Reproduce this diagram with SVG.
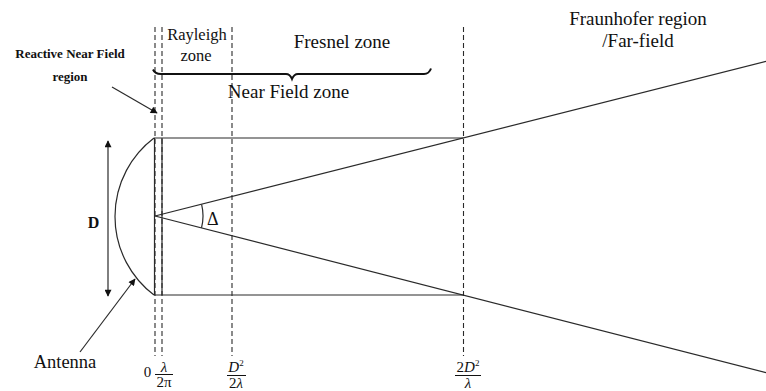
<svg xmlns="http://www.w3.org/2000/svg" width="766" height="391" viewBox="0 0 766 391">
<style>
.ln{stroke:#2a2a2a;stroke-width:1.2;fill:none}
.ds{stroke:#2a2a2a;stroke-width:1.1;fill:none;stroke-dasharray:5 3}
.t{font-family:'Liberation Serif','DejaVu Serif',serif;fill:#111}
.b{font-weight:bold}
.i{font-style:italic}
</style>
<defs>
<marker id="ah" viewBox="0 0 10 10" refX="9" refY="5" markerWidth="8" markerHeight="7" markerUnits="userSpaceOnUse" orient="auto-start-reverse">
<path d="M0,0 L10,5 L0,10 Z" fill="#111"/>
</marker>
</defs>
<rect width="766" height="391" fill="#fff"/>
<g id="boundaries">
<line class="ds" x1="155" y1="27" x2="155" y2="356"/>
<line class="ds" x1="162" y1="27" x2="162" y2="356"/>
<line class="ds" x1="232" y1="27" x2="232" y2="356"/>
<line class="ds" x1="463.5" y1="27" x2="463.5" y2="356"/>
</g>
<g id="antenna">
<path class="ln" d="M154,138 A98.5,98.5 0 0 0 154,295"/>
<line class="ln" x1="154.5" y1="138" x2="154.5" y2="295"/>
<line class="ln" x1="162" y1="138" x2="162" y2="295"/>
</g>
<g id="beam">
<line class="ln" x1="154" y1="138" x2="463.5" y2="138"/>
<line class="ln" x1="154" y1="295" x2="463.5" y2="295"/>
<line class="ln" x1="155" y1="216" x2="766" y2="61.3"/>
<line class="ln" x1="155" y1="216" x2="766" y2="372.7"/>
<path class="ln" d="M201.6,204.4 A48,48 0 0 1 201.5,227.9"/>
</g>
<g id="brace">
<path d="M153,69.5 Q155,74 161,74 L286,74 Q290,74 292,79 Q294,74 298,74 L424,74 Q429,74 431,68.5" stroke="#111" stroke-width="2" fill="none"/>
</g>
<g id="connectors">
<line class="ln" x1="108" y1="141" x2="108" y2="296" marker-start="url(#ah)" marker-end="url(#ah)"/>
<line class="ln" x1="112" y1="87" x2="157" y2="113" marker-end="url(#ah)"/>
<line class="ln" x1="80" y1="352" x2="135" y2="279" marker-end="url(#ah)"/>
</g>
<g id="labels">
<text class="t b" x="70" y="58" font-size="13" text-anchor="middle">Reactive Near Field</text>
<text class="t b" x="70" y="81" font-size="13" text-anchor="middle">region</text>
<text class="t" x="197" y="40" font-size="16.5" text-anchor="middle">Rayleigh</text>
<text class="t" x="196" y="61" font-size="16.5" text-anchor="middle">zone</text>
<text class="t" x="342" y="48" font-size="19" text-anchor="middle">Fresnel zone</text>
<text class="t" x="288.5" y="98" font-size="19" text-anchor="middle">Near Field zone</text>
<text class="t" x="638" y="25" font-size="19" text-anchor="middle">Fraunhofer region</text>
<text class="t" x="638" y="47" font-size="19" text-anchor="middle">/Far-field</text>
<text class="t b" x="93.5" y="228" font-size="16" text-anchor="middle">D</text>
<text class="t" x="207" y="225" font-size="18">Δ</text>
<text class="t" x="65" y="368" font-size="18.5" text-anchor="middle">Antenna</text>
</g>
<g id="axis-labels">
<text class="t" x="147.5" y="377" font-size="15" text-anchor="middle">0</text>
<text class="t i" x="164" y="372" font-size="15" text-anchor="middle">λ</text>
<line x1="155" y1="374.5" x2="173" y2="374.5" stroke="#111" stroke-width="1"/>
<text class="t" x="164" y="387" font-size="15" text-anchor="middle">2π</text>
<text class="t" x="236" y="372" font-size="15" text-anchor="middle"><tspan class="i">D</tspan><tspan font-size="9" dy="-6">2</tspan></text>
<line x1="227" y1="375.5" x2="246" y2="375.5" stroke="#111" stroke-width="1"/>
<text class="t" x="236" y="387.5" font-size="15" text-anchor="middle">2<tspan class="i">λ</tspan></text>
<text class="t" x="468" y="372" font-size="15" text-anchor="middle">2<tspan class="i">D</tspan><tspan font-size="9" dy="-6">2</tspan></text>
<line x1="455" y1="375.5" x2="481" y2="375.5" stroke="#111" stroke-width="1"/>
<text class="t i" x="468" y="387.5" font-size="15" text-anchor="middle">λ</text>
</g>
</svg>
